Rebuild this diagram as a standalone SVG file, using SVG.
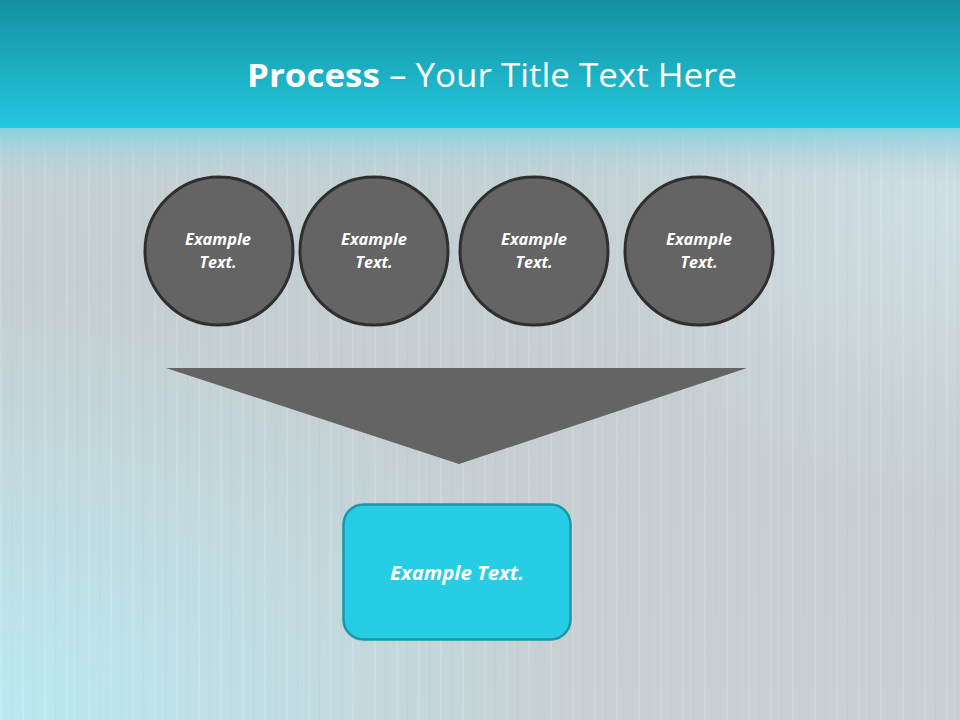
<svg xmlns="http://www.w3.org/2000/svg" width="960" height="720" viewBox="0 0 960 720">
<defs>
<linearGradient id="hdr" x1="0" y1="0" x2="0" y2="1">
<stop offset="0" stop-color="#1690A0"/>
<stop offset="1" stop-color="#21C8DF"/>
</linearGradient>
<linearGradient id="band" x1="0" y1="0" x2="0" y2="1">
<stop offset="0" stop-color="#7FD2E2" stop-opacity="0.9"/>
<stop offset="1" stop-color="#C2D3D8" stop-opacity="0"/>
</linearGradient>
<linearGradient id="bg" x1="0" y1="0" x2="0" y2="1">
<stop offset="0" stop-color="#C2D3D8"/>
<stop offset="0.5" stop-color="#C6CED1"/>
<stop offset="1" stop-color="#C8D0D3"/>
</linearGradient>
<radialGradient id="glowBL" cx="0" cy="1" r="0.6">
<stop offset="0" stop-color="#B8ECF5" stop-opacity="0.9"/>
<stop offset="1" stop-color="#B8ECF5" stop-opacity="0"/>
</radialGradient>
<radialGradient id="glowTR" cx="1" cy="0.3" r="0.4">
<stop offset="0" stop-color="#D6E8EE" stop-opacity="0.6"/>
<stop offset="1" stop-color="#D6E8EE" stop-opacity="0"/>
</radialGradient>
<pattern id="stripes" width="22" height="720" patternUnits="userSpaceOnUse">
<rect x="0" y="0" width="2" height="720" fill="#FFFFFF" opacity="0.12"/>
<rect x="11" y="0" width="1.5" height="720" fill="#8FA0A8" opacity="0.07"/>
</pattern>
</defs>
<style>
.circ{fill:#646464;stroke:#2F2F2F;stroke-width:3}
.ct{font-family:"Open Sans","Liberation Sans",sans-serif;font-weight:bold;font-style:italic;font-size:16px;fill:#FFFFFF;text-anchor:middle}
.title{font-family:"Open Sans","Liberation Sans",sans-serif;font-size:33px;fill:#FFFFFF;text-anchor:middle}
</style>
<rect width="960" height="720" fill="url(#bg)"/>
<rect width="960" height="720" fill="url(#glowBL)"/>
<rect width="960" height="720" fill="url(#glowTR)"/>
<rect y="128" width="960" height="592" fill="url(#stripes)"/>
<rect y="128" width="960" height="55" fill="url(#band)"/>
<rect width="960" height="128" fill="url(#hdr)"/>
<text class="title" x="492" y="87" textLength="490" lengthAdjust="spacingAndGlyphs"><tspan font-weight="bold">Process</tspan> – Your Title Text Here</text>
<g id="node1"><circle class="circ" cx="219" cy="251" r="74"/><text class="ct" x="218" y="245" textLength="66" lengthAdjust="spacingAndGlyphs">Example</text><text class="ct" x="218" y="268">Text.</text></g>
<g id="node2"><circle class="circ" cx="374" cy="251" r="74"/><text class="ct" x="374" y="245" textLength="66" lengthAdjust="spacingAndGlyphs">Example</text><text class="ct" x="374" y="268">Text.</text></g>
<g id="node3"><circle class="circ" cx="534" cy="251" r="74"/><text class="ct" x="534" y="245" textLength="66" lengthAdjust="spacingAndGlyphs">Example</text><text class="ct" x="534" y="268">Text.</text></g>
<g id="node4"><circle class="circ" cx="699" cy="251" r="74"/><text class="ct" x="699" y="245" textLength="66" lengthAdjust="spacingAndGlyphs">Example</text><text class="ct" x="699" y="268">Text.</text></g>
<g id="connectors"><polygon points="166,368 747,368 459,464" fill="#646464"/></g>
<g id="result"><rect x="343.5" y="504.5" width="227" height="135" rx="20" fill="#26CDE5" stroke="#1B98A8" stroke-width="2.5"/><text x="457" y="580" font-family="'Open Sans','Liberation Sans',sans-serif" font-weight="bold" font-style="italic" font-size="20" fill="#FFFFFF" text-anchor="middle" textLength="134" lengthAdjust="spacingAndGlyphs">Example Text.</text></g>
</svg>
